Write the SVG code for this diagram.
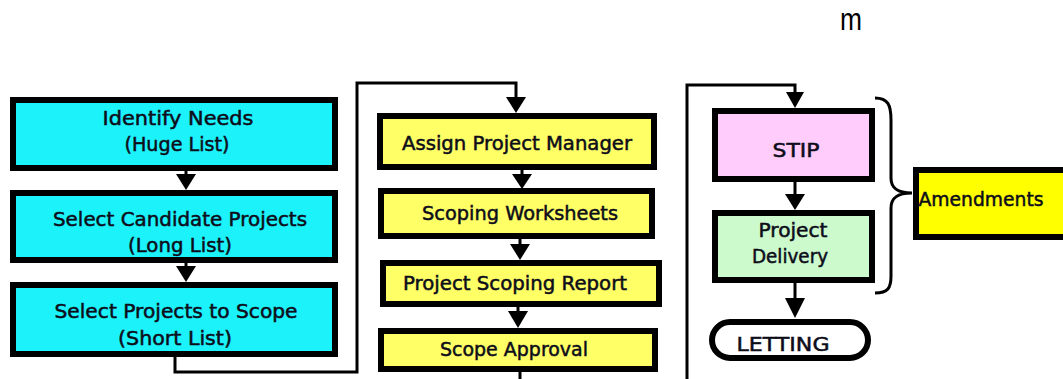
<svg xmlns="http://www.w3.org/2000/svg" width="1063" height="379" viewBox="0 0 1063 379">
  <style>
    .box { stroke: #000; stroke-width: 6; }
    .cyan { fill: #1CF2FA; }
    .yel { fill: #FFFF66; }
    .pink { fill: #FFCCFB; }
    .green { fill: #CCFACC; }
    .amend { fill: #FFFF00; }
    .lbl { font-family: "DejaVu Sans", "Liberation Sans", sans-serif; font-size: 19px; fill: #0d0d1a; stroke: #0d0d1a; stroke-width: 0.5; text-anchor: middle; }
    .wire { fill: none; stroke: #000; stroke-width: 3; }
    .head { fill: #000; }
  </style>

  <!-- stray heading glyph -->
  <text x="851" y="30" font-family="Liberation Sans, sans-serif" font-size="31" text-anchor="middle" textLength="22" lengthAdjust="spacingAndGlyphs">m</text>

  <!-- connectors -->
  <g id="connectors">
    <!-- left column -->
    <line class="wire" x1="186" y1="171" x2="186" y2="178"/>
    <polygon class="head" points="176,174 196,174 186,190"/>
    <line class="wire" x1="186" y1="263" x2="186" y2="270"/>
    <polygon class="head" points="176,266 196,266 186,282"/>
    <!-- loop to middle column -->
    <polyline class="wire" points="175,357 175,372 357,372 357,83 516,83 516,100"/>
    <polygon class="head" points="506,97 526,97 516,113"/>
    <!-- middle column -->
    <line class="wire" x1="522" y1="170" x2="522" y2="177"/>
    <polygon class="head" points="512,174 532,174 522,189"/>
    <line class="wire" x1="520" y1="239" x2="520" y2="247"/>
    <polygon class="head" points="510,244 530,244 520,260"/>
    <line class="wire" x1="518" y1="307" x2="518" y2="314"/>
    <polygon class="head" points="508,311 528,311 518,328"/>
    <line class="wire" x1="520" y1="372" x2="520" y2="379"/>
    <!-- loop to right column -->
    <polyline class="wire" points="687,379 687,85 795,85 795,95"/>
    <polygon class="head" points="786,92 804,92 795,108"/>
    <!-- right column -->
    <line class="wire" x1="795" y1="182" x2="795" y2="197"/>
    <polygon class="head" points="785,194 805,194 795,210"/>
    <line class="wire" x1="795" y1="283" x2="795" y2="300"/>
    <polygon class="head" points="785,298 805,298 795,318"/>
    <!-- brace -->
    <path class="wire" stroke-width="4" d="M875 98 C888 98 891 105 891 120 L891 178 C891 188 897 193 912 193 C897 193 891 198 891 208 L891 276 C891 288 888 293 875 293"/>
  </g>

  <!-- left column -->
  <g id="identify-needs">
    <rect class="box cyan" x="13" y="100" width="322" height="68"/>
    <text class="lbl" x="178" y="125" textLength="151" lengthAdjust="spacingAndGlyphs">Identify Needs</text>
    <text class="lbl" x="177" y="151" textLength="105" lengthAdjust="spacingAndGlyphs">(Huge List)</text>
  </g>
  <g id="select-candidates">
    <rect class="box cyan" x="13" y="193" width="322" height="67"/>
    <text class="lbl" x="180" y="226" textLength="254" lengthAdjust="spacingAndGlyphs">Select Candidate Projects</text>
    <text class="lbl" x="180" y="252" textLength="104" lengthAdjust="spacingAndGlyphs">(Long List)</text>
  </g>
  <g id="select-to-scope">
    <rect class="box cyan" x="13" y="285" width="322" height="69"/>
    <text class="lbl" x="176" y="318" textLength="243" lengthAdjust="spacingAndGlyphs">Select Projects to Scope</text>
    <text class="lbl" x="175" y="345" textLength="114" lengthAdjust="spacingAndGlyphs">(Short List)</text>
  </g>

  <!-- middle column -->
  <g id="assign-pm">
    <rect class="box yel" x="380" y="116" width="274" height="51"/>
    <text class="lbl" x="517" y="150" textLength="230" lengthAdjust="spacingAndGlyphs">Assign Project Manager</text>
  </g>
  <g id="worksheets">
    <rect class="box yel" x="381" y="191" width="271" height="45"/>
    <text class="lbl" x="520" y="220" textLength="196" lengthAdjust="spacingAndGlyphs">Scoping Worksheets</text>
  </g>
  <g id="scoping-report">
    <rect class="box yel" x="383" y="263" width="276" height="41"/>
    <text class="lbl" x="515" y="290" textLength="224" lengthAdjust="spacingAndGlyphs">Project Scoping Report</text>
  </g>
  <g id="scope-approval">
    <rect class="box yel" x="381" y="331" width="274" height="38"/>
    <text class="lbl" x="514" y="356" textLength="148" lengthAdjust="spacingAndGlyphs">Scope Approval</text>
  </g>

  <!-- right column -->
  <g id="stip">
    <rect class="box pink" x="715" y="111" width="157" height="68"/>
    <text class="lbl" x="796" y="157" textLength="47" lengthAdjust="spacingAndGlyphs">STIP</text>
  </g>
  <g id="project-delivery">
    <rect class="box green" x="715" y="213" width="157" height="67"/>
    <text class="lbl" x="793" y="237" textLength="69" lengthAdjust="spacingAndGlyphs">Project</text>
    <text class="lbl" x="790" y="263" textLength="76" lengthAdjust="spacingAndGlyphs">Delivery</text>
  </g>
  <g id="letting">
    <rect class="box" fill="#fff" stroke-width="4" x="712" y="322" width="156" height="36" rx="18"/>
    <text class="lbl" x="783" y="351" textLength="93" lengthAdjust="spacingAndGlyphs">LETTING</text>
  </g>
  <g id="amendments">
    <rect class="box amend" x="916" y="170" width="160" height="67"/>
    <text class="lbl" x="981" y="206" textLength="125" lengthAdjust="spacingAndGlyphs">Amendments</text>
  </g>
</svg>
